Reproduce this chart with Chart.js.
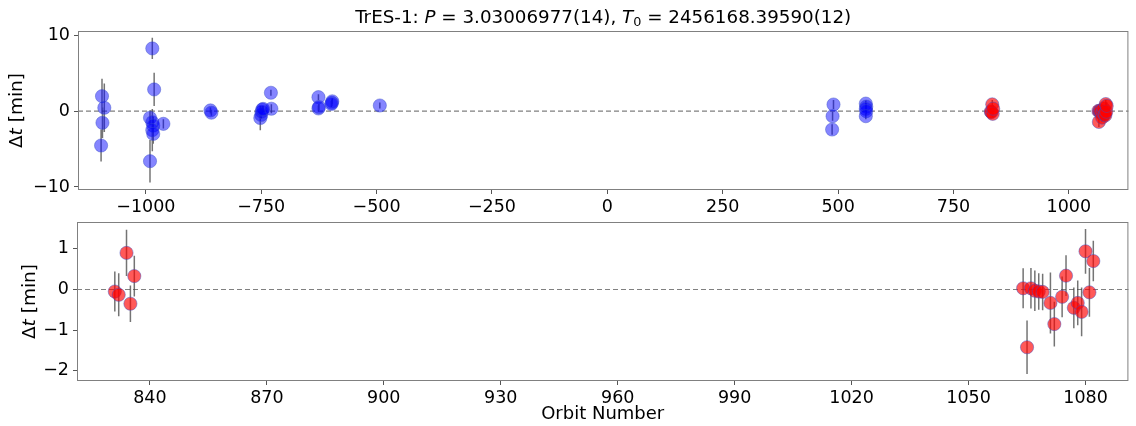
<!DOCTYPE html>
<html>
<head>
<meta charset="utf-8">
<script src="https://cdn.jsdelivr.net/npm/chart.js@4"></script>
<style>
  body { margin: 0; background: #fff; }
  #wrap { position: relative; width: 1136px; height: 426px; }
  canvas { position: absolute; left: 0; top: 0; }
</style>
</head>
<body>
<div id="wrap">
  <canvas id="allChart" width="1136" height="426"></canvas>
  <canvas id="zoomChart" width="1136" height="426"></canvas>
</div>
<script>
// earlier transits (blue), only in the top panel
const blueEpochs = [-1095, -1090, -1094, -1097, -986, -982, -991, -986, -984, -986, -984, -962, -991,
    -860, -858, -752, -750, -749, -748, -746, -729, -728, -626, -626, -625, -597, -596, -598, -493,
    490, 488, 487, 560, 561, 560, 561, 560];
const blueDt = [1.98, 0.45, -1.53, -4.53, 8.28, 2.87, -0.87, -1.45, -1.9, -2.5, -3.0, -1.67, -6.6,
    0.1, -0.2, -0.9, -0.5, -0.1, 0.2, 0.3, 2.43, 0.32, 1.85, 0.36, 0.55, 1.1, 1.3, 0.95, 0.75,
    0.88, -0.66, -2.42, 1.0, 0.6, 0.3, 0.0, -0.66];
const blueErr = [2.3, 3.2, 2.0, 2.1, 1.4, 2.2, 1.0, 1.5, 1.2, 2.8, 1.3, 0.6, 2.8,
    0.4, 0.4, 1.6, 0.5, 0.5, 0.5, 0.4, 0.4, 0.6, 0.4, 0.4, 0.4, 0.4, 0.4, 0.4, 0.4,
    0.6, 0.6, 0.7, 0.4, 0.4, 0.4, 0.4, 0.4];

// new transits (red), in both panels
const redEpochs = [831, 832, 834, 835, 836, 1064, 1065, 1066, 1067, 1068, 1069, 1071, 1072, 1074,
    1075, 1077, 1078, 1079, 1080, 1081, 1082];
const redDt = [-0.05, -0.13, 0.90, -0.35, 0.33, 0.03, -1.42, 0.03, -0.03, -0.05, -0.06, -0.33, -0.85,
    -0.18, 0.34, -0.45, -0.33, -0.55, 0.94, -0.07, 0.70];
const redErr = [0.49, 0.53, 0.57, 0.45, 0.5, 0.49, 0.66, 0.5, 0.5, 0.45, 0.45, 0.75, 0.55, 0.5,
    0.5, 0.5, 0.55, 0.6, 0.55, 0.6, 0.5];

const topXTicks = [-1000, -750, -500, -250, 0, 250, 500, 750, 1000];
const topYTicks = [-10, 0, 10];
const bottomXTicks = [840, 870, 900, 930, 960, 990, 1020, 1050, 1080];
const bottomYTicks = [-2, -1, 0, 1];

const FONT = "'DejaVu Sans', sans-serif";
const TICK_SIZE = 17.5;

function toPoints(xs, ys) {
    return xs.map((x, i) => ({ x: x, y: ys[i] }));
}

// each bar is two points followed by a gap
function errPoints(xs, ys, es) {
    const out = [];
    xs.forEach((x, i) => {
        out.push({ x: x, y: ys[i] - es[i] }, { x: x, y: ys[i] + es[i] }, { x: x, y: null });
    });
    return out;
}

function minusLabel(v) {
    return v < 0 ? '\u2212' + Math.abs(v) : String(v);
}

function errSet(xs, ys, es) {
    return {
        data: errPoints(xs, ys, es),
        showLine: true,
        spanGaps: false,
        borderColor: 'rgba(70,70,70,0.75)',
        borderWidth: 1.5,
        pointRadius: 0,
        order: 3
    };
}

function markSet(xs, ys, fill, order) {
    return {
        data: toPoints(xs, ys),
        backgroundColor: fill,
        borderColor: 'rgba(60,80,200,0.45)',
        borderWidth: 1,
        pointRadius: 6.6,
        order: order
    };
}

function axes(xr, xTicks, yr, yTicks, yWidth, xHeight, xTitle) {
    const tickFont = { family: FONT, size: TICK_SIZE };
    return {
        x: {
            type: 'linear', min: xr[0], max: xr[1],
            afterBuildTicks: (a) => { a.ticks = xTicks.map(v => ({ value: v })); },
            afterFit: (a) => { a.height = xHeight; },
            grid: { drawOnChartArea: false, drawTicks: true, tickLength: 4, color: '#555' },
            border: { display: false },
            ticks: { callback: minusLabel, font: tickFont, color: '#000', padding: 3, maxRotation: 0, autoSkip: false },
            title: xTitle ? { display: true, text: xTitle, font: { family: FONT, size: 18 }, color: '#000', padding: { top: 0, bottom: 1 } } : { display: false }
        },
        y: {
            type: 'linear', min: yr[0], max: yr[1],
            afterBuildTicks: (a) => { a.ticks = yTicks.map(v => ({ value: v })); },
            afterFit: (a) => { a.width = yWidth; },
            grid: { drawOnChartArea: false, drawTicks: true, tickLength: 4, color: '#555' },
            border: { display: false },
            ticks: { callback: minusLabel, font: tickFont, color: '#000', padding: 4, autoSkip: false }
        }
    };
}

// draw text made of upright / italic / subscript pieces
function drawPieces(ctx, pieces, size, cx, cy) {
    const fontFor = (p) => (p[1] === 'i' ? 'italic ' : '') + (p[1] === 's' ? size * 0.7 : size) + 'px ' + FONT;
    let total = 0;
    pieces.forEach(p => { ctx.font = fontFor(p); total += ctx.measureText(p[0]).width; });
    let x = cx - total / 2;
    ctx.textAlign = 'left';
    ctx.textBaseline = 'middle';
    ctx.fillStyle = '#000';
    pieces.forEach(p => {
        ctx.font = fontFor(p);
        ctx.fillText(p[0], x, p[1] === 's' ? cy + size * 0.25 : cy);
        x += ctx.measureText(p[0]).width;
    });
}

const framePlugin = {
    id: 'frame',
    beforeDatasetsDraw(chart) {
        const { ctx, chartArea: a, scales } = chart;
        const y0 = scales.y.getPixelForValue(0);
        ctx.save();
        ctx.strokeStyle = '#808080';
        ctx.lineWidth = 1.2;
        ctx.setLineDash([5, 3]);
        ctx.beginPath();
        ctx.moveTo(a.left, y0);
        ctx.lineTo(a.right, y0);
        ctx.stroke();
        ctx.restore();
    },
    afterDraw(chart, args, opts) {
        const { ctx, chartArea: a } = chart;
        ctx.save();
        ctx.strokeStyle = '#808080';
        ctx.lineWidth = 1;
        ctx.strokeRect(a.left + 0.5, a.top + 0.5, a.right - a.left - 1, a.bottom - a.top - 1);
        // y axis title
        ctx.translate(opts.yTitleX, (a.top + a.bottom) / 2);
        ctx.rotate(-Math.PI / 2);
        drawPieces(ctx, [['\u0394', 'n'], ['t', 'i'], [' [min]', 'n']], 18.5, 0, 0);
        ctx.restore();
        if (opts.title) {
            ctx.save();
            drawPieces(ctx, [['TrES-1: ', 'n'], ['P', 'i'], [' = 3.03006977(14), ', 'n'], ['T', 'i'], ['0', 's'],
                [' = 2456168.39590(12)', 'n']], 18.3, (a.left + a.right) / 2, 18);
            ctx.restore();
        }
    }
};

document.addEventListener('DOMContentLoaded', function () {
    new Chart(document.getElementById('allChart').getContext('2d'), {
        type: 'scatter',
        data: {
            datasets: [
                errSet(blueEpochs, blueDt, blueErr),
                errSet(redEpochs, redDt, redErr),
                markSet(blueEpochs, blueDt, 'rgba(0,0,255,0.48)', 2),
                markSet(redEpochs, redDt, 'rgba(255,0,0,0.65)', 1)
            ]
        },
        options: {
            responsive: false,
            animation: false,
            layout: { padding: { top: 31, right: 2, bottom: 206, left: 0 } },
            scales: axes([-1147, 1129], topXTicks, [-10.4, 10.58], topYTicks, 78, 30, null),
            plugins: {
                legend: { display: false },
                tooltip: { enabled: false },
                frame: { yTitleX: 17, title: true }
            }
        },
        plugins: [framePlugin]
    });

    new Chart(document.getElementById('zoomChart').getContext('2d'), {
        type: 'scatter',
        data: {
            datasets: [
                errSet(redEpochs, redDt, redErr),
                markSet(redEpochs, redDt, 'rgba(255,0,0,0.65)', 1)
            ]
        },
        options: {
            responsive: false,
            animation: false,
            layout: { padding: { top: 222, right: 2, bottom: 0, left: 0 } },
            scales: axes([821.3, 1091], bottomXTicks, [-2.25, 1.66], bottomYTicks, 77, 45, 'Orbit Number'),
            plugins: {
                legend: { display: false },
                tooltip: { enabled: false },
                frame: { yTitleX: 30, title: false }
            }
        },
        plugins: [framePlugin]
    });
});
</script>
</body>
</html>
